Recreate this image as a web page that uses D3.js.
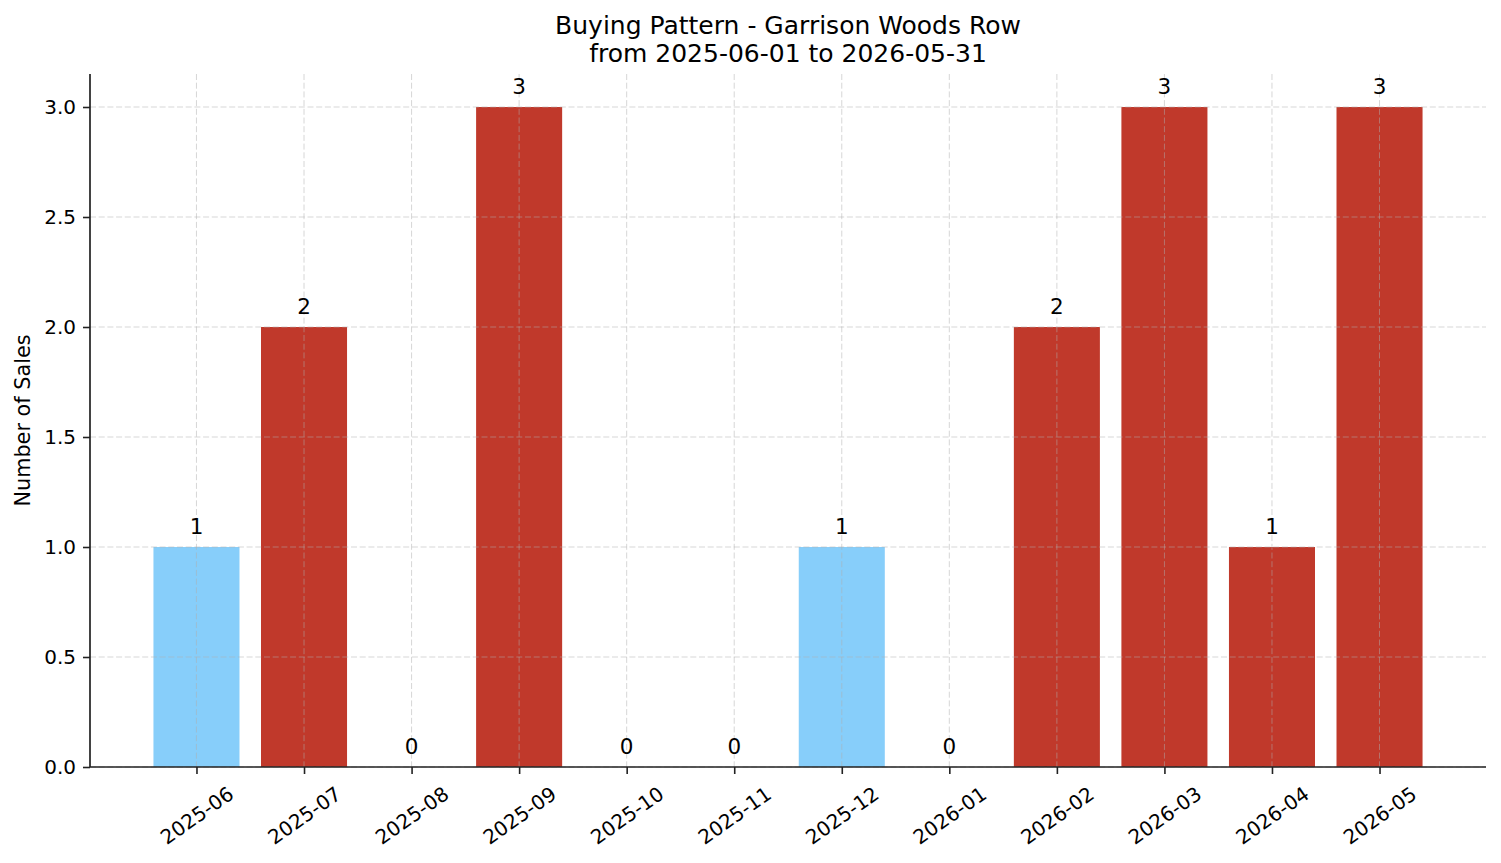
<!DOCTYPE html>
<html>
<head>
<meta charset="utf-8">
<script src="https://cdn.jsdelivr.net/npm/d3@7/dist/d3.min.js"></script>
<style>
  body { margin: 0; background: #fff; }
  svg { display: block; font-family: "DejaVu Sans", sans-serif; }
</style>
</head>
<body>
<div id="chart"></div>
<script>
'use strict';

// data
var months = ['2025-06', '2025-07', '2025-08', '2025-09', '2025-10', '2025-11',
              '2025-12', '2026-01', '2026-02', '2026-03', '2026-04', '2026-05']
var sales = [1, 2, 0, 3, 0, 0, 1, 0, 2, 3, 1, 3]
var group = ['light', 'dark', 'dark', 'dark', 'dark', 'dark',
             'light', 'dark', 'dark', 'dark', 'dark', 'dark']
var yTicks = [0, 0.5, 1, 1.5, 2, 2.5, 3]
var titleLines = ['Buying Pattern - Garrison Woods Row', 'from 2025-06-01 to 2026-05-31']

var width = 1501, height = 863
var margin = {top: 74, right: 15, bottom: 96, left: 90}
var innerW = width - margin.left - margin.right
var innerH = height - margin.top - margin.bottom

var svg = d3.select('#chart').append('svg')
    .attr('width', width)
    .attr('height', height)

var g = svg.append('g')
    .attr('transform', 'translate(' + margin.left + ',' + margin.top + ')')

// x as a linear index scale, with matplotlib-like padding
var x = d3.scaleLinear()
    .domain([-0.99, months.length - 1 + 0.99])
    .range([0, innerW])
var step = x(1) - x(0)
var barW = step * 0.8

var y = d3.scaleLinear()
    .domain([0, 3.15])
    .range([innerH, 0])

var color = d3.scaleOrdinal()
    .domain(['light', 'dark'])
    .range(['#87cefa', '#c0392b'])

// bars
g.selectAll('rect.bar')
    .data(sales)
  .enter().append('rect')
    .attr('class', 'bar')
    .attr('x', function(d, i){ return x(i) - barW / 2 })
    .attr('y', function(d){ return y(d) })
    .attr('width', barW)
    .attr('height', function(d){ return innerH - y(d) })
    .attr('fill', function(d, i){ return color(group[i]) })

// grid (drawn over bars)
var grid = g.append('g').attr('class', 'grid')
grid.selectAll('line.gy')
    .data(yTicks)
  .enter().append('line')
    .attr('x1', 0).attr('x2', innerW)
    .attr('y1', function(d){ return y(d) }).attr('y2', function(d){ return y(d) })
grid.selectAll('line.gx')
    .data(months)
  .enter().append('line')
    .attr('x1', function(d, i){ return x(i) }).attr('x2', function(d, i){ return x(i) })
    .attr('y1', 0).attr('y2', innerH)
grid.selectAll('line')
    .attr('stroke', '#b0b0b0')
    .attr('stroke-opacity', 0.5)
    .attr('stroke-width', 1)
    .attr('stroke-dasharray', '6,2.7')

// value labels
g.selectAll('text.val')
    .data(sales)
  .enter().append('text')
    .attr('class', 'val')
    .attr('x', function(d, i){ return x(i) })
    .attr('y', function(d){ return y(d) - 13 })
    .attr('text-anchor', 'middle')
    .attr('font-size', 21.5)
    .attr('fill', '#000')
    .text(function(d){ return d })

// y axis
var yAxis = g.append('g')
    .call(d3.axisLeft(y).tickValues(yTicks).tickFormat(d3.format('.1f')).tickSize(7).tickPadding(7))
yAxis.select('.domain').remove()
yAxis.selectAll('.tick line').attr('stroke', '#222').attr('stroke-width', 1.6)
yAxis.selectAll('.tick text').attr('font-size', 20).attr('fill', '#000')
    .attr('font-family', '"DejaVu Sans", sans-serif')

// x axis
var xAxis = g.append('g')
    .attr('transform', 'translate(0,' + innerH + ')')
    .call(d3.axisBottom(x).tickValues(d3.range(months.length)).tickFormat(function(i){ return months[i] }).tickSize(7))
xAxis.select('.domain').remove()
xAxis.selectAll('.tick line').attr('stroke', '#222').attr('stroke-width', 1.6)
xAxis.selectAll('.tick text')
    .attr('font-size', 20)
    .attr('fill', '#000')
    .attr('font-family', '"DejaVu Sans", sans-serif')
    .attr('text-anchor', 'middle')
    .attr('dy', null)
    .attr('y', 48.5)
    .attr('dominant-baseline', 'central')
    .attr('transform', 'rotate(-35,0,48.5)')

// spines
g.append('line')
    .attr('x1', 0).attr('x2', 0).attr('y1', 0).attr('y2', innerH)
    .attr('stroke', '#222').attr('stroke-width', 1.7)
g.append('line')
    .attr('x1', 0).attr('x2', innerW).attr('y1', innerH).attr('y2', innerH)
    .attr('stroke', '#222').attr('stroke-width', 1.7)

// y label
svg.append('text')
    .attr('transform', 'translate(30,' + (margin.top + innerH / 2) + ') rotate(-90)')
    .attr('text-anchor', 'middle')
    .attr('font-size', 20.8)
    .text('Number of Sales')

// title
svg.selectAll('text.title')
    .data(titleLines)
  .enter().append('text')
    .attr('class', 'title')
    .attr('x', margin.left + innerW / 2)
    .attr('y', function(d, i){ return 34 + i * 28 })
    .attr('text-anchor', 'middle')
    .attr('font-size', 25)
    .text(function(d){ return d })
</script>
</body>
</html>
